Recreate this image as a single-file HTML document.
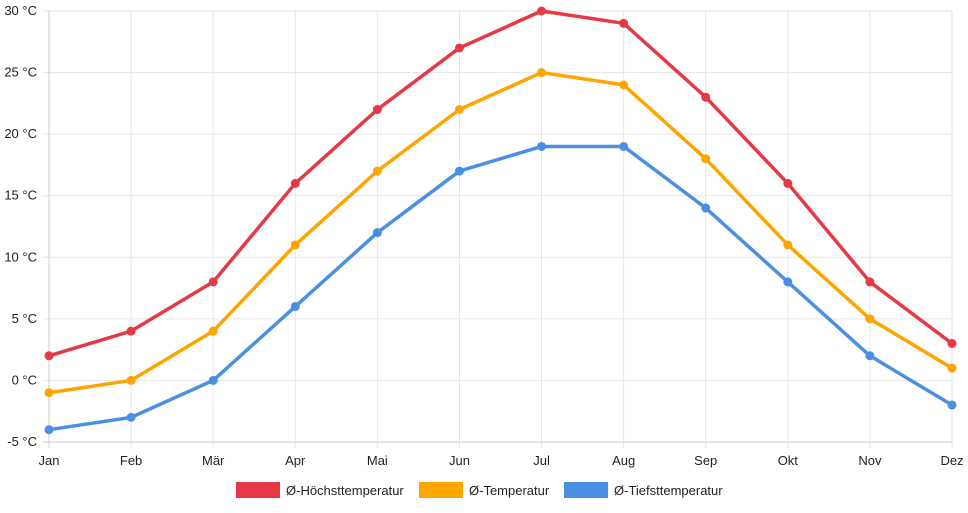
<!DOCTYPE html>
<html><head><meta charset="utf-8"><style>
body{margin:0;background:#fff;width:968px;height:508px;overflow:hidden;font-family:"Liberation Sans",sans-serif}
svg text{font-family:"Liberation Sans",sans-serif;font-size:13px;fill:#222}
</style></head><body>
<svg id="chart" width="968" height="508" xmlns="http://www.w3.org/2000/svg">
<g id="grid"></g>
<g id="axes"></g>
<g id="series"></g>
<g id="legend"></g>
</svg>
<script>
const months=["Jan","Feb","Mär","Apr","Mai","Jun","Jul","Aug","Sep","Okt","Nov","Dez"];
const highTemps=[2,4,8,16,22,27,30,29,23,16,8,3];
const meanTemps=[-1,0,4,11,17,22,25,24,18,11,5,1];
const lowTemps=[-4,-3,0,6,12,17,19,19,14,8,2,-2];
const yTicks=[-5,0,5,10,15,20,25,30];
const seriesNames=["Ø-Höchsttemperatur","Ø-Temperatur","Ø-Tiefsttemperatur"];
const NS="http://www.w3.org/2000/svg";
const x0=49,x1=952,yTop=11,yBot=442,yMin=-5,yMax=30;
const xs=i=>x0+i*(x1-x0)/(months.length-1);
const ys=v=>yBot-(v-yMin)*(yBot-yTop)/(yMax-yMin);
function mk(t,a,p){const e=document.createElementNS(NS,t);for(const k in a)e.setAttribute(k,a[k]);p.appendChild(e);return e;}
const grid=document.getElementById('grid'),axes=document.getElementById('axes'),ser=document.getElementById('series'),leg=document.getElementById('legend');
yTicks.forEach(v=>{
  const l=mk('line',{x1:x0-6,x2:x1,y1:ys(v),y2:ys(v),stroke:v===yMin?'#ccc':'#e6e6e6','stroke-width':1},grid);
  
  
  const t=mk('text',{x:37,y:ys(v)+4,'text-anchor':'end'},axes);t.textContent=v+' °C';
  
  
});
months.forEach((m,i)=>{
  const l=mk('line',{x1:xs(i),x2:xs(i),y1:yTop,y2:yBot+6,stroke:i===0?'#ccc':'#e6e6e6','stroke-width':1},grid);
  
  
  const t=mk('text',{x:xs(i),y:465,'text-anchor':'middle'},axes);t.textContent=m;
  
  
});
const data=[highTemps,meanTemps,lowTemps];
const colors=["#e63946","#ffa500","#4a90e2"];
const keys=["high","mean","low"];
data.forEach((d,s)=>{
  const p=mk('polyline',{points:d.map((v,i)=>xs(i)+','+ys(v)).join(' '),fill:'none',stroke:colors[s],'stroke-width':3.5,'stroke-linejoin':'round'},ser);
  
  
  d.forEach((v,i)=>{
    const c=mk('circle',{cx:xs(i),cy:ys(v),r:4.5,fill:colors[s]},ser);
    
    
  });
});
const lx=[236,419,564];
seriesNames.forEach((n,s)=>{
  const r=mk('rect',{x:lx[s],y:482,width:44,height:16,fill:colors[s]},leg);
  
  
  const t=mk('text',{x:lx[s]+50,y:495},leg);t.textContent=n;
  
  
});
</script>
</body></html>
